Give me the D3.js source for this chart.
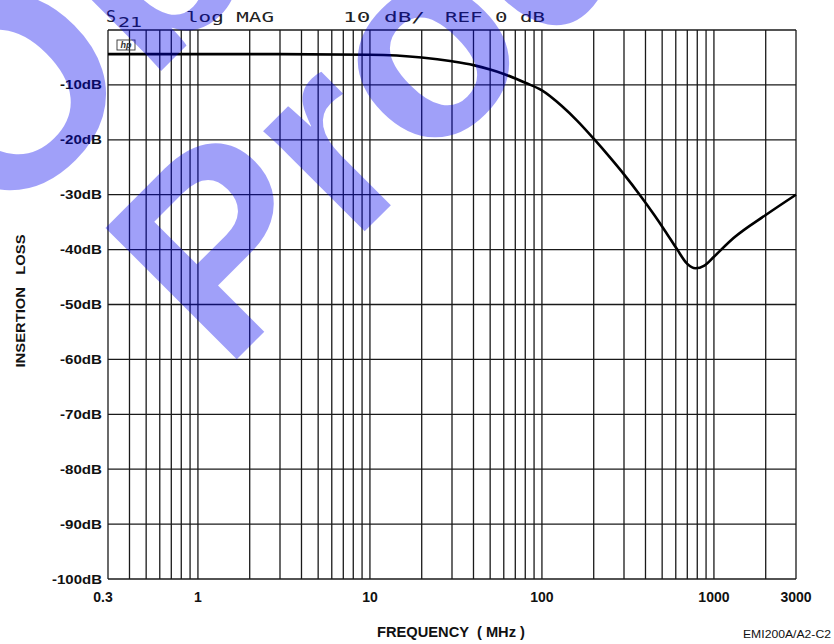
<!DOCTYPE html>
<html>
<head>
<meta charset="utf-8">
<script src="https://cdn.jsdelivr.net/npm/d3@7"></script>
<style>
  body { margin: 0; background: #fff; }
  svg { display: block; }
</style>
</head>
<body>
<script>
// insertion loss curve (MHz, dB)
const freqMHz = [0.3, 1, 3, 10, 20, 30, 40, 50, 60, 80, 100, 130, 160, 200, 250, 300, 370, 450, 520, 612, 700, 780, 880, 1000, 1300, 2000, 3000];
const lossDb = [-4.4, -4.4, -4.4, -4.5, -5.0, -5.7, -6.4, -7.2, -8.0, -9.6, -11.0, -13.8, -16.5, -19.8, -23.3, -26.3, -30.0, -33.7, -36.6, -40.0, -42.6, -43.4, -42.9, -41.3, -37.9, -33.7, -30.0];

const dbTicks = [-10, -20, -30, -40, -50, -60, -70, -80, -90, -100];
const freqLabels = [0.3, 1, 10, 100, 1000, 3000];
const freqLabelText = ["0.3", "1", "10", "100", "1000", "3000"];

const W = 834, H = 644;
const svg = d3.select("body").append("svg")
    .attr("width", W)
    .attr("height", H);

svg.append("rect").attr("width", W).attr("height", H).attr("fill", "#fff");

const x = d3.scaleLog().domain([0.3, 3000]).range([108, 796]);
const y = d3.scaleLinear().domain([0, -100]).range([30, 579]);

const grid = svg.append("g").attr("stroke", "#1a1a1a").attr("stroke-width", 1.3);

// vertical grid: every log tick
grid.selectAll("line.v")
    .data(x.ticks())
    .join("line")
    .attr("class", "v")
    .attr("x1", d => x(d)).attr("x2", d => x(d))
    .attr("y1", y(0)).attr("y2", y(-100));

// horizontal grid
grid.selectAll("line.h")
    .data([0].concat(dbTicks))
    .join("line")
    .attr("class", "h")
    .attr("x1", x(0.3)).attr("x2", x(3000))
    .attr("y1", d => y(d)).attr("y2", d => y(d));

// header (plotter style)
const header = svg.append("g")
    .attr("font-family", "'DejaVu Sans Mono', monospace")
    .attr("font-size", 14)
    .attr("fill", "#222");
const headerBits = [
  { t: "S", x: 106, y: 22, len: 10, fs: 15 },
  { t: "21", x: 118, y: 27, len: 24, fs: 14 },
  { t: "log MAG", x: 186, y: 22, len: 88, fs: 14 },
  { t: "10 dB/", x: 343, y: 22, len: 82, fs: 14 },
  { t: "REF 0 dB", x: 445, y: 22, len: 100, fs: 14 }
];
header.selectAll("text")
    .data(headerBits)
    .join("text")
    .attr("x", d => d.x)
    .attr("y", d => d.y)
    .attr("font-size", d => d.fs)
    .attr("textLength", d => d.len)
    .attr("lengthAdjust", "spacingAndGlyphs")
    .text(d => d.t);

// little hp logo box
svg.append("rect")
    .attr("x", 117).attr("y", 40).attr("width", 18).attr("height", 10)
    .attr("fill", "none").attr("stroke", "#333").attr("stroke-width", 0.9);
svg.append("text")
    .attr("x", 126).attr("y", 48)
    .attr("text-anchor", "middle")
    .attr("font-family", "'Liberation Sans', Arial, sans-serif")
    .attr("font-size", 9).attr("font-style", "italic").attr("font-weight", "bold")
    .attr("fill", "#333")
    .text("hp");

// y labels
svg.append("g")
    .attr("font-family", "'Liberation Sans', Arial, sans-serif")
    .attr("font-weight", "bold")
    .attr("font-size", 12.5)
    .attr("fill", "#111")
    .selectAll("text")
    .data(dbTicks)
    .join("text")
    .attr("x", 102)
    .attr("y", d => y(d) + 4.5)
    .attr("text-anchor", "end")
    .attr("textLength", d => d === -100 ? 50 : 42)
    .attr("lengthAdjust", "spacingAndGlyphs")
    .text(d => d + "dB");

// x labels
svg.append("g")
    .attr("font-family", "'Liberation Sans', Arial, sans-serif")
    .attr("font-weight", "bold")
    .attr("font-size", 14)
    .attr("fill", "#111")
    .selectAll("text")
    .data(freqLabels)
    .join("text")
    .attr("x", (d, i) => x(d) - (i === 0 ? 5 : 0))
    .attr("y", 602)
    .attr("text-anchor", "middle")
    .text((d, i) => freqLabelText[i]);

// axis titles
svg.append("text")
    .attr("x", 377).attr("y", 637)
    .attr("font-family", "'Liberation Sans', Arial, sans-serif")
    .attr("font-weight", "bold").attr("font-size", 14).attr("fill", "#111")
    .attr("textLength", 148).attr("lengthAdjust", "spacingAndGlyphs")
    .attr("xml:space", "preserve")
    .text("FREQUENCY  ( MHz )");

svg.append("text")
    .attr("x", 743).attr("y", 638)
    .attr("font-family", "'Liberation Sans', Arial, sans-serif")
    .attr("font-size", 11.5).attr("fill", "#111")
    .attr("textLength", 88).attr("lengthAdjust", "spacingAndGlyphs")
    .text("EMI200A/A2-C2");

svg.append("text")
    .attr("transform", "translate(25,301) rotate(-90)")
    .attr("text-anchor", "middle")
    .attr("font-family", "'Liberation Sans', Arial, sans-serif")
    .attr("font-weight", "bold").attr("font-size", 13).attr("fill", "#111")
    .attr("textLength", 133).attr("lengthAdjust", "spacingAndGlyphs")
    .attr("xml:space", "preserve")
    .text("INSERTION   LOSS");

// the trace
const pts = freqMHz.map((f, i) => [f, lossDb[i]]);
const line = d3.line()
    .x(d => x(d[0]))
    .y(d => y(d[1]))
    .curve(d3.curveMonotoneX);

svg.append("path")
    .datum(pts)
    .attr("d", line)
    .attr("fill", "none")
    .attr("stroke", "#000")
    .attr("stroke-width", 2.6)
    .attr("stroke-linejoin", "round");

// watermark over everything
const wm = svg.append("g")
    .attr("font-family", "'Liberation Sans', Arial, sans-serif")
    .attr("font-weight", "bold")
    .attr("font-size", 270)
    .attr("fill", "rgb(0,0,240)")
    .attr("fill-opacity", 0.373);
wm.append("text")
    .attr("transform", "translate(0,232) rotate(-45)")
    .text("Obsolete Product(s)");
wm.append("text")
    .attr("transform", "translate(224,372) rotate(-45)")
    .text("Product(s)");
</script>
</body>
</html>
